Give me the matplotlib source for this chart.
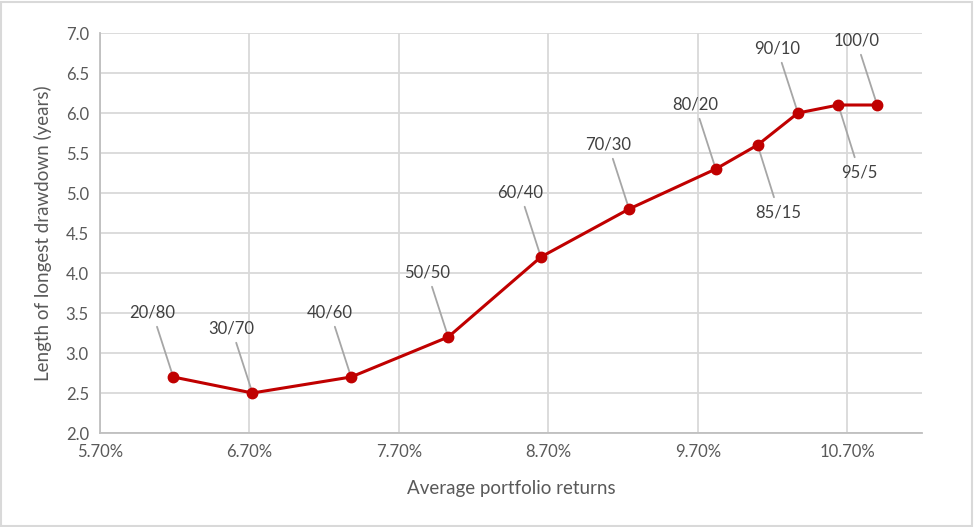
import matplotlib.pyplot as plt
from matplotlib.patches import Rectangle

# allocation labels (stocks/bonds) with average return and drawdown length
labels = ["20/80", "30/70", "40/60", "50/50", "60/40", "70/30",
          "80/20", "85/15", "90/10", "95/5", "100/0"]
avg_returns = [6.19, 6.72, 7.38, 8.03, 8.65, 9.24, 9.82, 10.10, 10.37, 10.64, 10.90]
drawdown_years = [2.7, 2.5, 2.7, 3.2, 4.2, 4.8, 5.3, 5.6, 6.0, 6.1, 6.1]
x_ticks = [5.70, 6.70, 7.70, 8.70, 9.70, 10.70]
y_ticks = [2.0, 2.5, 3.0, 3.5, 4.0, 4.5, 5.0, 5.5, 6.0, 6.5, 7.0]
below = ["85/15", "95/5"]

plt.rcParams['font.family'] = ['Lato', 'DejaVu Sans']
text_color = "#595959"

fig = plt.figure(figsize=(9.74, 5.27), dpi=100)
ax = fig.add_axes([100 / 974, (527 - 433) / 527, (922 - 100) / 974, 400 / 527])

ax.plot(avg_returns, drawdown_years, color="#c00000", linewidth=2.2,
        marker="o", markersize=7.5, zorder=3)

for lab, x, y in zip(labels, avg_returns, drawdown_years):
    if lab in below:
        offset = (21, -67)
    else:
        offset = (-21, 65)
    ax.annotate(lab, (x, y), xytext=offset, textcoords="offset pixels",
                ha="center", va="center", fontsize=12, color="#404040",
                arrowprops=dict(arrowstyle="-", color="#a6a6a6", lw=1.3,
                                shrinkA=3, shrinkB=0), zorder=2)

ax.set_xlim(5.70, 11.20)
ax.set_ylim(2.0, 7.0)
ax.set_xticks(x_ticks)
ax.set_xticklabels([f"{t:.2f}%" for t in x_ticks])
ax.set_yticks(y_ticks)
ax.set_yticklabels([f"{t:.1f}" for t in y_ticks])
ax.tick_params(length=0, labelsize=12, colors=text_color, pad=8)
ax.grid(True, color="#d9d9d9", linewidth=1.3)
ax.set_axisbelow(True)
for side in ["top", "right"]:
    ax.spines[side].set_visible(False)
for side in ["left", "bottom"]:
    ax.spines[side].set_color("#bfbfbf")
    ax.spines[side].set_linewidth(1.3)

ax.set_xlabel("Average portfolio returns", fontsize=13.5, color=text_color, labelpad=14)
ax.set_ylabel("Length of longest drawdown (years)", fontsize=13.5, color=text_color, labelpad=10)

fig.patches.append(Rectangle((0.001, 0.002), 0.997, 0.995, transform=fig.transFigure,
                             fill=False, edgecolor="#d9d9d9", linewidth=1.5))

fig.savefig("out.png", dpi=100)
